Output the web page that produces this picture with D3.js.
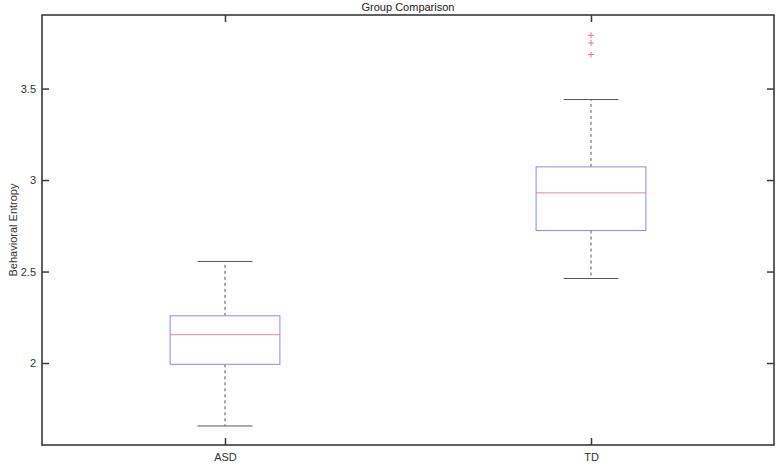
<!DOCTYPE html>
<html>
<head>
<meta charset="utf-8">
<script src="https://cdn.jsdelivr.net/npm/d3@7"></script>
<style>
  body { margin: 0; background: #fff; }
  svg { font-family: "Liberation Sans", Arial, sans-serif; }
</style>
</head>
<body>
<div id="chart"></div>
<script>
// box statistics
var groups = ['ASD', 'TD'];
var lowerWhisker = [1.656, 2.462];
var q1 = [1.993, 2.724];
var median = [2.155, 2.930];
var q3 = [2.258, 3.072];
var upperWhisker = [2.555, 3.44];
var outliers = [[], [3.686, 3.749, 3.791]];
var yTicks = [2, 2.5, 3, 3.5];

var width = 780;
var height = 468;
var margin = { top: 15, right: 6, bottom: 23, left: 42 };

var svg = d3.select('#chart')
    .append('svg')
    .attr('width', width)
    .attr('height', height);

var x = d3.scaleLinear()
    .domain([0.5, 2.5])
    .range([margin.left, width - margin.right]);

var y = d3.scaleLinear()
    .domain([1.552, 3.902])
    .range([height - margin.bottom, margin.top]);

var boxHalf = 0.15;
var capHalf = 0.075;

var data = groups.map((g, i) => ({
    name: g, pos: i + 1,
    lo: lowerWhisker[i], q1: q1[i], med: median[i], q3: q3[i], hi: upperWhisker[i],
    out: outliers[i]
}));

var axisColor = '#3a3a3a';

// axes: ticks inward on all four sides
svg.append('g')
    .attr('transform', `translate(${margin.left},0)`)
    .call(d3.axisRight(y).tickValues(yTicks).tickSize(7).tickFormat(''))
    .call(g => g.select('.domain').remove());
svg.append('g')
    .attr('transform', `translate(${margin.left},0)`)
    .call(d3.axisLeft(y).tickValues(yTicks).tickSize(0).tickPadding(6).tickFormat(d3.format('')))
    .call(g => g.select('.domain').remove());
svg.append('g')
    .attr('transform', `translate(${width - margin.right},0)`)
    .call(d3.axisLeft(y).tickValues(yTicks).tickSize(7).tickFormat(''))
    .call(g => g.select('.domain').remove());
svg.append('g')
    .attr('transform', `translate(0,${height - margin.bottom})`)
    .call(d3.axisTop(x).tickValues([1, 2]).tickSize(7).tickFormat(''))
    .call(g => g.select('.domain').remove());
svg.append('g')
    .attr('transform', `translate(0,${height - margin.bottom})`)
    .call(d3.axisBottom(x).tickValues([1, 2]).tickSize(0).tickPadding(8).tickFormat(d => groups[d - 1]))
    .call(g => g.select('.domain').remove());
svg.append('g')
    .attr('transform', `translate(0,${margin.top})`)
    .call(d3.axisBottom(x).tickValues([1, 2]).tickSize(7).tickFormat(''))
    .call(g => g.select('.domain').remove());

svg.selectAll('.tick line')
    .attr('stroke', axisColor)
    .attr('stroke-width', 1.5);
svg.selectAll('.tick text')
    .attr('fill', '#333')
    .attr('font-size', 11);

svg.append('rect')
    .attr('x', margin.left)
    .attr('y', margin.top)
    .attr('width', width - margin.left - margin.right)
    .attr('height', height - margin.top - margin.bottom)
    .attr('fill', 'none')
    .attr('stroke', axisColor)
    .attr('stroke-width', 1.6);

// boxes
var box = svg.append('g')
    .selectAll('g')
    .data(data)
    .join('g');

box.append('line')
    .attr('x1', d => x(d.pos)).attr('x2', d => x(d.pos))
    .attr('y1', d => y(d.q3)).attr('y2', d => y(d.hi))
    .attr('stroke', '#555').attr('stroke-dasharray', '3,3');
box.append('line')
    .attr('x1', d => x(d.pos)).attr('x2', d => x(d.pos))
    .attr('y1', d => y(d.q1)).attr('y2', d => y(d.lo))
    .attr('stroke', '#555').attr('stroke-dasharray', '3,3');
box.append('line')
    .attr('x1', d => x(d.pos - capHalf)).attr('x2', d => x(d.pos + capHalf))
    .attr('y1', d => y(d.hi)).attr('y2', d => y(d.hi))
    .attr('stroke', '#555');
box.append('line')
    .attr('x1', d => x(d.pos - capHalf)).attr('x2', d => x(d.pos + capHalf))
    .attr('y1', d => y(d.lo)).attr('y2', d => y(d.lo))
    .attr('stroke', '#555');
box.append('rect')
    .attr('x', d => x(d.pos - boxHalf))
    .attr('width', d => x(d.pos + boxHalf) - x(d.pos - boxHalf))
    .attr('y', d => y(d.q3))
    .attr('height', d => y(d.q1) - y(d.q3))
    .attr('fill', 'none')
    .attr('stroke', '#8888f4');
box.append('line')
    .attr('x1', d => x(d.pos - boxHalf)).attr('x2', d => x(d.pos + boxHalf))
    .attr('y1', d => y(d.med)).attr('y2', d => y(d.med))
    .attr('stroke', '#e38a9a');

// outliers as red plus signs
box.selectAll('path.out')
    .data(d => d.out.map(v => ({ pos: d.pos, v: v })))
    .join('path')
    .attr('class', 'out')
    .attr('d', d => {
        var cx = x(d.pos), cy = y(d.v);
        return `M${cx - 3},${cy}H${cx + 3}M${cx},${cy - 3}V${cy + 3}`;
    })
    .attr('stroke', '#e07a86')
    .attr('fill', 'none');

// title and y label
svg.append('text')
    .attr('x', (margin.left + width - margin.right) / 2)
    .attr('y', 11)
    .attr('text-anchor', 'middle')
    .attr('font-size', 11)
    .attr('fill', '#222')
    .text('Group Comparison');

svg.append('text')
    .attr('transform', `translate(17,${(margin.top + height - margin.bottom) / 2}) rotate(-90)`)
    .attr('text-anchor', 'middle')
    .attr('font-size', 11)
    .attr('fill', '#333')
    .text('Behavioral Entropy');
</script>
</body>
</html>
